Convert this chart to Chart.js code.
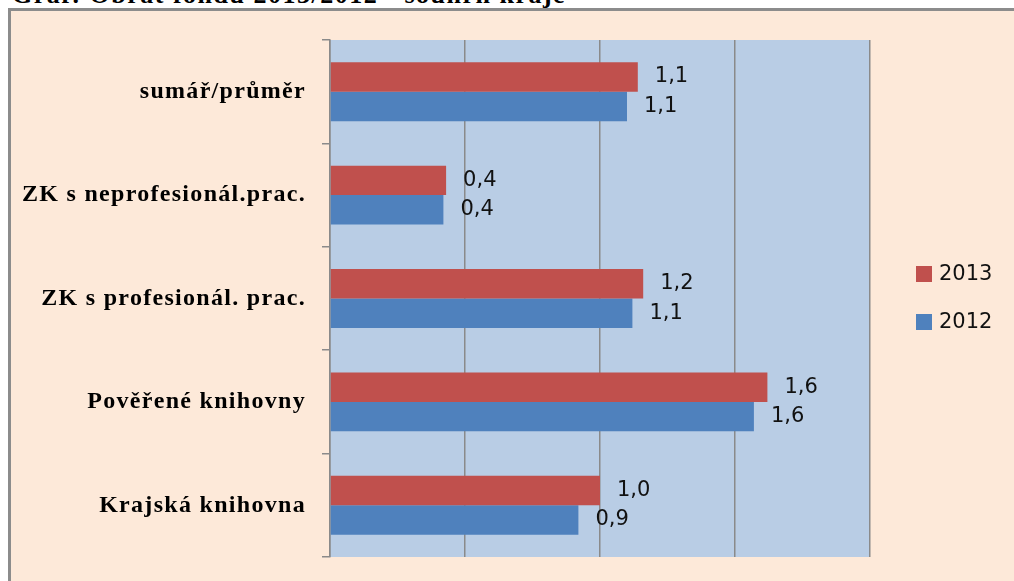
<!DOCTYPE html>
<html>
<head>
<meta charset="utf-8">
<script src="https://cdn.jsdelivr.net/npm/chart.js@4/dist/chart.umd.min.js"></script>
<style>
  html, body { margin:0; padding:0; background:#fff; overflow:hidden; width:1014px; height:581px; }
  #title { position:absolute; left:12px; top:-20px; font:bold 26px "Liberation Serif", serif; letter-spacing:1.5px; color:#000; white-space:nowrap; }
  #frame { position:absolute; left:8px; top:8px; width:1020px; height:600px; border-left:3px solid #8c8c8c; border-top:3px solid #8c8c8c; background:#FDE9D9; }
  #chart { position:absolute; left:0; top:0; }
</style>
</head>
<body>
<div id="title">Graf: Obrat fondu 2013/2012 - souhrn kraje</div>
<div id="frame"><canvas id="chart" width="1003" height="570"></canvas></div>
<script>
const CATEGORIES = ["sumář/průměr", "ZK s neprofesionál.prac.", "ZK s profesionál. prac.", "Pověřené knihovny", "Krajská knihovna"];
const SERIES_NAMES = ["2013", "2012"];
const VALUES_2013 = [1.14, 0.43, 1.16, 1.62, 1.00];
const VALUES_2012 = [1.10, 0.42, 1.12, 1.57, 0.92];
const COLORS = ["#C0504D", "#4F81BD"];

function fmt(v){ return v.toFixed(1).replace(".", ","); }

// light blue plot background + spaced-out axis labels
const plotBg = {
  id: "plotBg",
  beforeDraw(chart){
    const a = chart.chartArea, c = chart.ctx;
    c.save(); c.fillStyle = "#B9CDE5"; c.fillRect(a.left, a.top, a.right - a.left, a.bottom - a.top); c.restore();
    c.letterSpacing = "1.3px";
  },
  beforeDatasetsDraw(chart){ chart.ctx.letterSpacing = "0px"; }
};

// value labels right of each bar
const valueLabels = {
  id: "valueLabels",
  afterDatasetsDraw(chart){
    const c = chart.ctx;
    c.save();
    c.font = '21px "DejaVu Sans"'; c.fillStyle = "#111"; c.textAlign = "left"; c.textBaseline = "middle";
    chart.data.datasets.forEach((ds, i) => {
      chart.getDatasetMeta(i).data.forEach((bar, j) => c.fillText(fmt(ds.data[j]), bar.x + 17, bar.y));
    });
    c.restore();
  }
};

// legend on the right
const sideLegend = {
  id: "sideLegend",
  afterDraw(chart){
    const c = chart.ctx;
    c.save();
    c.font = '21px "DejaVu Sans"'; c.textAlign = "left"; c.textBaseline = "middle";
    chart.data.datasets.forEach((ds, i) => {
      const y = 263 + i * 48;
      c.fillStyle = ds.backgroundColor; c.fillRect(905, y - 8, 16, 16);
      c.fillStyle = "#111"; c.fillText(ds.label, 928, y + 1);
    });
    c.restore();
  }
};

new Chart(document.getElementById("chart"), {
  type: "bar",
  data: {
    labels: CATEGORIES,
    datasets: [
      { label: SERIES_NAMES[0], data: VALUES_2013, backgroundColor: COLORS[0] },
      { label: SERIES_NAMES[1], data: VALUES_2012, backgroundColor: COLORS[1] }
    ]
  },
  options: {
    indexAxis: "y",
    responsive: false,
    animation: false,
    events: [],
    categoryPercentage: 0.57,
    barPercentage: 1.0,
    layout: { padding: { top: 29, bottom: 24, right: 144, left: 0 } },
    plugins: { legend: { display: false }, tooltip: { enabled: false } },
    scales: {
      x: {
        min: 0, max: 2,
        ticks: { display: false, stepSize: 0.5 },
        grid: { color: "#8a8a8a", lineWidth: 1.5, drawTicks: false },
        border: { display: false },
        afterFit(s){ s.height = 0; }
      },
      y: {
        ticks: { color: "#000", padding: 16, font: { family: "Liberation Serif", weight: "bold", size: 24 } },
        grid: { offset: true, drawOnChartArea: false, tickLength: 8, color: "#8a8a8a", lineWidth: 1.5 },
        border: { color: "#8a8a8a", width: 1.5 },
        afterFit(s){ s.width = 319; s.paddingTop = 0; s.paddingBottom = 0; }
      }
    }
  },
  plugins: [plotBg, valueLabels, sideLegend]
});
</script>
</body>
</html>
